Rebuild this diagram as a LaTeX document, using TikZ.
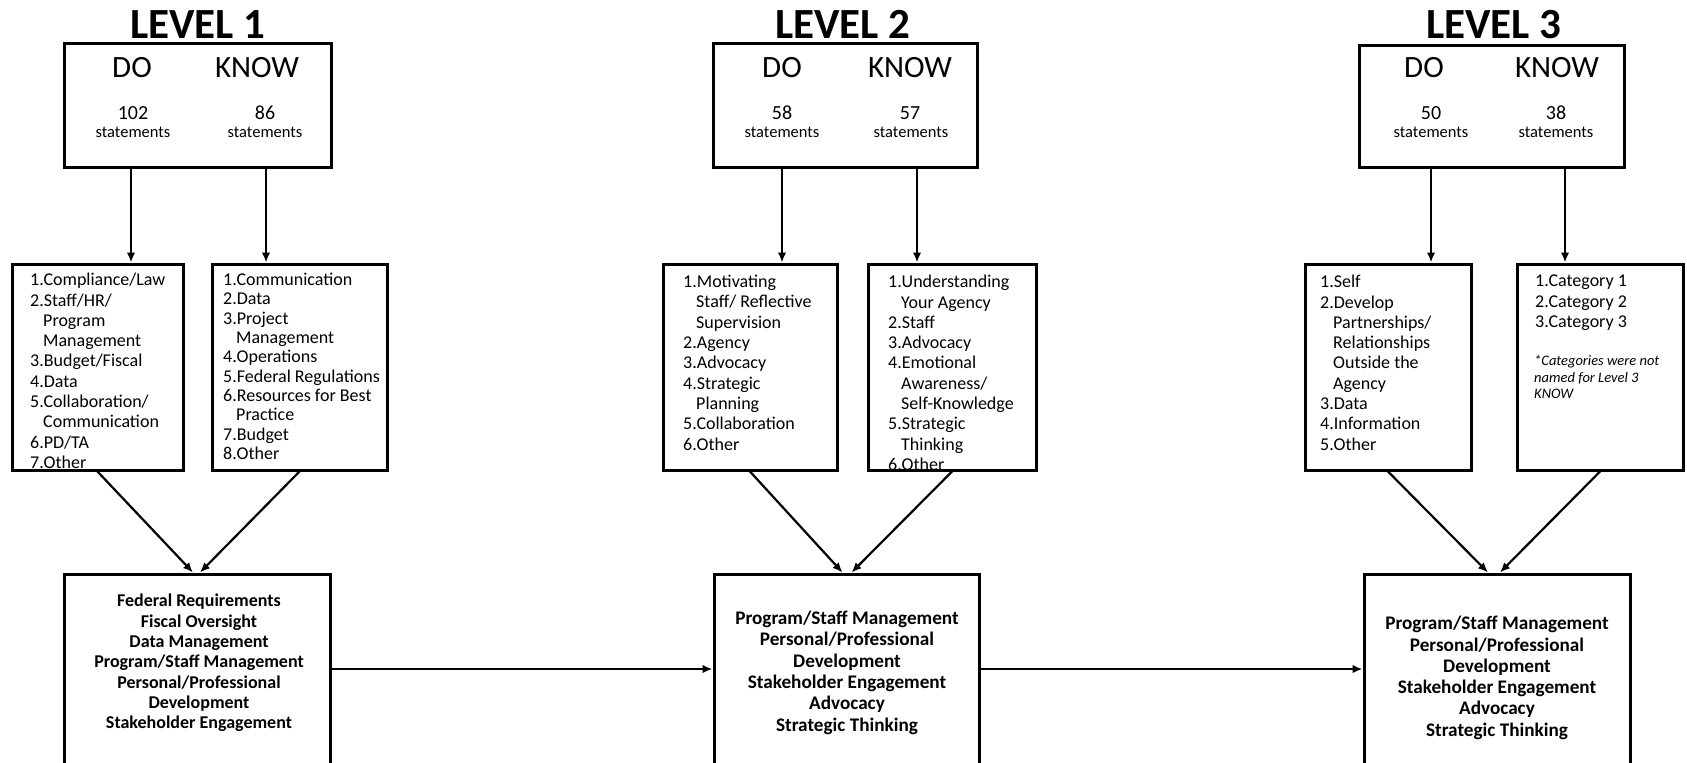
\documentclass[tikz,border=0pt]{standalone}
\usepackage{fontspec}
\setmainfont{Carlito}
\usetikzlibrary{arrows.meta,calc}
\begin{document}
\begin{tikzpicture}[x=1pt,y=-1pt,
 box/.style={draw, line width=3pt, inner sep=0pt},
 arr/.style={line width=2.2pt, -{Latex[length=10pt,width=8.5pt]}},
 ttl/.style={font=\fontsize{43}{47}\selectfont\bfseries, inner sep=0pt, anchor=base},
 dk/.style={font=\fontsize{31}{34}\selectfont, inner sep=0pt, anchor=base},
 num/.style={font=\fontsize{20}{22}\selectfont, inner sep=0pt, anchor=base},
 stm/.style={font=\fontsize{16.5}{18}\selectfont, inner sep=0pt, anchor=base},
 lst/.style={font=\fontsize{18}{20.3}\selectfont, inner sep=0pt, anchor=north west, align=left},
 lstb/.style={font=\fontsize{18}{19.3}\selectfont, inner sep=0pt, anchor=north west, align=left},
 note/.style={font=\fontsize{14.5}{16.7}\selectfont\itshape, inner sep=0pt, anchor=north west, align=left},
 res/.style={font=\fontsize{18}{20.3}\selectfont\bfseries, inner sep=0pt, anchor=north, align=center},
 resb/.style={font=\fontsize{19.2}{21.3}\selectfont\bfseries, inner sep=0pt, anchor=north, align=center},
]
\clip (0,0) rectangle (1687,763);
\newcommand{\ind}{\hspace*{13pt}}
% ---------- titles
\node[ttl] (title1) at (198,38) {LEVEL 1};
\node[ttl] (title2) at (843,38) {LEVEL 2};
\node[ttl] (title3) at (1494,38) {LEVEL 3};
% ---------- top boxes
\node[box, minimum width=267pt, minimum height=124pt] (top1) at (197.5,105) {};
\node[box, minimum width=264pt, minimum height=124pt] (top2) at (845,105) {};
\node[box, minimum width=265pt, minimum height=122pt] (top3) at (1491.5,106) {};
\node[dk] (do1) at (132,77) {DO};
\node[dk] (know1) at (257,77) {KNOW};
\node[num] (n1a) at (133,119) {102};
\node[num] (n1b) at (265,119) {86};
\node[stm] (s1a) at (133,137) {statements};
\node[stm] (s1b) at (265,137) {statements};
\node[dk] (do2) at (782,77) {DO};
\node[dk] (know2) at (910,77) {KNOW};
\node[num] (n2a) at (782,119) {58};
\node[num] (n2b) at (910,119) {57};
\node[stm] (s2a) at (782,137) {statements};
\node[stm] (s2b) at (911,137) {statements};
\node[dk] (do3) at (1424,77) {DO};
\node[dk] (know3) at (1557,77) {KNOW};
\node[num] (n3a) at (1431,119) {50};
\node[num] (n3b) at (1556,119) {38};
\node[stm] (s3a) at (1431,137) {statements};
\node[stm] (s3b) at (1556,137) {statements};
% ---------- list boxes
\node[box, minimum width=171pt, minimum height=206pt] (l1a) at (97.5,367) {};
\node[box, minimum width=175pt, minimum height=206pt] (l1b) at (299.5,367) {};
\node[box, minimum width=174pt, minimum height=206pt] (l2a) at (750,367) {};
\node[box, minimum width=168pt, minimum height=206pt] (l2b) at (952,367) {};
\node[box, minimum width=166pt, minimum height=206pt] (l3a) at (1388,367) {};
\node[box, minimum width=166pt, minimum height=206pt] (l3b) at (1600,367) {};
\node[lst] (t1a) at (30,273) {1.Compliance/Law\\2.Staff/HR/\\\ind Program\\\ind Management\\3.Budget/Fiscal\\4.Data\\5.Collaboration/\\\ind Communication\\6.PD/TA\\7.Other};
\node[lstb] (t1b) at (223,273) {1.Communication\\2.Data\\3.Project\\\ind Management\\4.Operations\\5.Federal Regulations\\6.Resources for Best\\\ind Practice\\7.Budget\\8.Other};
\node[lst] (t2a) at (683,275) {1.Motivating\\\ind Staff/ Reflective\\\ind Supervision\\2.Agency\\3.Advocacy\\4.Strategic\\\ind Planning\\5.Collaboration\\6.Other};
\node[lst] (t2b) at (888,275) {1.Understanding\\\ind Your Agency\\2.Staff\\3.Advocacy\\4.Emotional\\\ind Awareness/\\\ind Self-Knowledge\\5.Strategic\\\ind Thinking\\6.Other};
\node[lst] (t3a) at (1320,275) {1.Self\\2.Develop\\\ind Partnerships/\\\ind Relationships\\\ind Outside the\\\ind Agency\\3.Data\\4.Information\\5.Other};
\node[lst] (t3b) at (1535,275) {1.Category 1\\2.Category 2\\3.Category 3};
\node[note] (t3c) at (1534,355) {*Categories were not\\named for Level 3\\KNOW};
% ---------- result boxes
\node[box, minimum width=266pt, minimum height=190pt] (b1) at (197,669) {};
\node[box, minimum width=265pt, minimum height=190pt] (b2) at (846.5,669) {};
\node[box, minimum width=266pt, minimum height=190pt] (b3) at (1497,669) {};
\node[res] (r1) at (199,594) {Federal Requirements\\Fiscal Oversight\\Data Management\\Program/Staff Management\\Personal/Professional\\Development\\Stakeholder Engagement};
\node[resb] (r2) at (847,611) {Program/Staff Management\\Personal/Professional\\Development\\Stakeholder Engagement\\Advocacy\\Strategic Thinking};
\node[resb] (r3) at (1497,616) {Program/Staff Management\\Personal/Professional\\Development\\Stakeholder Engagement\\Advocacy\\Strategic Thinking};
% ---------- connectors
\coordinate (v1a) at (131,167);
\coordinate (v1b) at (266,167);
\coordinate (v2a) at (782,167);
\coordinate (v2b) at (917,167);
\coordinate (v3a) at (1431,167);
\coordinate (v3b) at (1565,167);
\draw[arr] (v1a) -- (v1a |- l1a.north);
\draw[arr] (v1b) -- (v1b |- l1b.north);
\draw[arr] (v2a) -- (v2a |- l2a.north);
\draw[arr] (v2b) -- (v2b |- l2b.north);
\draw[arr] (v3a) -- (v3a |- l3a.north);
\draw[arr] (v3b) -- (v3b |- l3b.north);
\draw[arr] (l1a.south) -- ($(b1.north)+(-4,0)$);
\draw[arr] (l1b.south) -- ($(b1.north)+(3,0)$);
\draw[arr] (l2a.south) -- ($(b2.north)+(-4,0)$);
\draw[arr] (l2b.south) -- ($(b2.north)+(5,0)$);
\draw[arr] (l3a.south) -- ($(b3.north)+(-9,0)$);
\draw[arr] (l3b.south) -- ($(b3.north)+(3,0)$);
\draw[arr] (b1.east) -- (b2.west);
\draw[arr] (b2.east) -- (b3.west);
\end{tikzpicture}
\end{document}
